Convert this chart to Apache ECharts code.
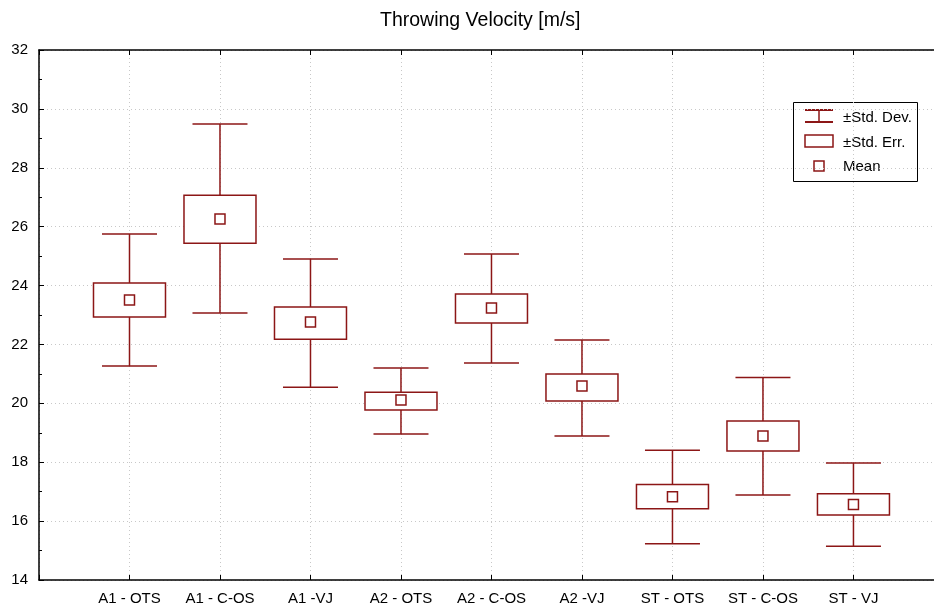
<!DOCTYPE html>
<html>
<head>
<meta charset="utf-8">
<title>Throwing Velocity</title>
<script src="https://cdn.jsdelivr.net/npm/echarts@6/dist/echarts.min.js"></script>
<style>
  html, body { margin: 0; padding: 0; background: #fff; }
  #chart { width: 934px; height: 610px; }
</style>
</head>
<body>
<div id="chart"></div>
<script>
var categories = ['A1 - OTS', 'A1 - C-OS', 'A1 -VJ', 'A2 - OTS', 'A2 - C-OS', 'A2 -VJ', 'ST - OTS', 'ST - C-OS', 'ST - VJ'];
var sdLow  = [21.27, 23.07, 20.55, 18.96, 21.37, 18.89, 15.23, 16.89, 15.15];
var seLow  = [22.93, 25.44, 22.18, 19.77, 22.73, 20.08, 16.42, 18.38, 16.21];
var means  = [23.51, 26.26, 22.76, 20.11, 23.24, 20.59, 16.83, 18.89, 16.56];
var seHigh = [24.09, 27.07, 23.27, 20.38, 23.71, 21.00, 17.24, 19.40, 16.93];
var sdHigh = [25.75, 29.49, 24.90, 21.20, 25.07, 22.15, 18.41, 20.88, 17.97];
var yTicks = [14, 32, 2];
// plot runs past the right edge of the picture, so the x range ends short of 10
var xMax = 9.89;

var red = '#8c1616';
var font = 'Arial, "Liberation Sans", sans-serif';

var data = categories.map(function (c, i) {
    return [i + 1, sdLow[i], seLow[i], means[i], seHigh[i], sdHigh[i]];
});

function renderBox(params, api) {
    var x = api.coord([api.value(0), 0])[0];
    var y1 = api.coord([0, api.value(1)])[1];
    var y2 = api.coord([0, api.value(2)])[1];
    var ym = api.coord([0, api.value(3)])[1];
    var y4 = api.coord([0, api.value(4)])[1];
    var y5 = api.coord([0, api.value(5)])[1];
    var bw = 72, cw = 55, ms = 10;
    var ls = { stroke: red, lineWidth: 1.5, fill: null };
    return {
        type: 'group',
        children: [
            { type: 'line', shape: { x1: x, y1: y5, x2: x, y2: y4 }, style: ls },
            { type: 'line', shape: { x1: x, y1: y2, x2: x, y2: y1 }, style: ls },
            { type: 'line', shape: { x1: x - cw / 2, y1: y5, x2: x + cw / 2, y2: y5 }, style: ls },
            { type: 'line', shape: { x1: x - cw / 2, y1: y1, x2: x + cw / 2, y2: y1 }, style: ls },
            { type: 'rect', shape: { x: x - bw / 2, y: y4, width: bw, height: y2 - y4 }, style: { stroke: red, lineWidth: 1.5, fill: '#fff' } },
            { type: 'rect', shape: { x: x - ms / 2, y: ym - ms / 2, width: ms, height: ms }, style: { stroke: red, lineWidth: 1.5, fill: '#fff' } }
        ]
    };
}

var chart = echarts.init(document.getElementById('chart'));
var option = {
    animation: false,
    backgroundColor: '#fff',
    title: {
        text: 'Throwing Velocity [m/s]',
        left: 375,
        top: 6,
        textStyle: { fontFamily: font, fontSize: 19.5, fontWeight: 'normal', color: '#000' }
    },
    grid: { left: 39, top: 50, right: 0, bottom: 30, outerBoundsMode: 'none' },
    xAxis: [{
        type: 'value',
        min: 0,
        max: xMax,
        interval: 1,
        axisLine: { lineStyle: { color: '#000', width: 1.5 } },
        axisTick: { inside: true, length: 5, lineStyle: { color: '#000' } },
        axisLabel: {
            fontFamily: font, fontSize: 15, color: '#000', margin: 11,
            formatter: function (v) { return categories[v - 1] || ''; }
        },
        splitLine: { show: true, lineStyle: { color: '#c8c8c8', type: [1, 3] } }
    }, {
        type: 'value',
        position: 'top',
        min: 0,
        max: xMax,
        interval: 1,
        axisLine: { onZero: false, lineStyle: { color: '#000', width: 1.5 } },
        axisTick: { inside: true, length: 5, lineStyle: { color: '#000' } },
        axisLabel: { show: false },
        splitLine: { show: false }
    }],
    yAxis: {
        type: 'value',
        min: yTicks[0],
        max: yTicks[1],
        interval: yTicks[2],
        axisLine: { show: true, lineStyle: { color: '#000', width: 1.5 } },
        axisTick: { show: true, inside: true, length: 5, lineStyle: { color: '#000' } },
        minorTick: { show: true, splitNumber: 2, length: 3, lineStyle: { color: '#000' } },
        axisLabel: { fontFamily: font, fontSize: 15, color: '#000', margin: 11 },
        splitLine: { show: true, lineStyle: { color: '#c8c8c8', type: [1, 3] } }
    },
    series: [{
        type: 'custom',
        name: 'box',
        renderItem: renderBox,
        encode: { x: 0, y: [1, 2, 3, 4, 5] },
        data: data,
        z: 5
    }],
    graphic: [{
        type: 'group',
        left: 793,
        top: 102,
        z: 10,
        children: [
            { type: 'rect', shape: { x: 0.5, y: 0.5, width: 124, height: 79 }, style: { stroke: '#000', lineWidth: 1, fill: '#fff' } },
            { type: 'line', shape: { x1: 12, y1: 8, x2: 40, y2: 8 }, style: { stroke: red, lineWidth: 2 } },
            { type: 'line', shape: { x1: 26, y1: 8, x2: 26, y2: 20 }, style: { stroke: red, lineWidth: 1.5 } },
            { type: 'line', shape: { x1: 12, y1: 20, x2: 40, y2: 20 }, style: { stroke: red, lineWidth: 2 } },
            { type: 'text', x: 50, y: 15.5, style: { text: '±Std. Dev.', font: '15px ' + font, fill: '#000', verticalAlign: 'middle' } },
            { type: 'rect', shape: { x: 12, y: 33, width: 28, height: 12 }, style: { stroke: red, lineWidth: 1.5, fill: '#fff' } },
            { type: 'text', x: 50, y: 40.5, style: { text: '±Std. Err.', font: '15px ' + font, fill: '#000', verticalAlign: 'middle' } },
            { type: 'rect', shape: { x: 21, y: 59, width: 10, height: 10 }, style: { stroke: red, lineWidth: 1.5, fill: '#fff' } },
            { type: 'text', x: 50, y: 65, style: { text: 'Mean', font: '15px ' + font, fill: '#000', verticalAlign: 'middle' } }
        ]
    }]
};
chart.setOption(option);
</script>
</body>
</html>
